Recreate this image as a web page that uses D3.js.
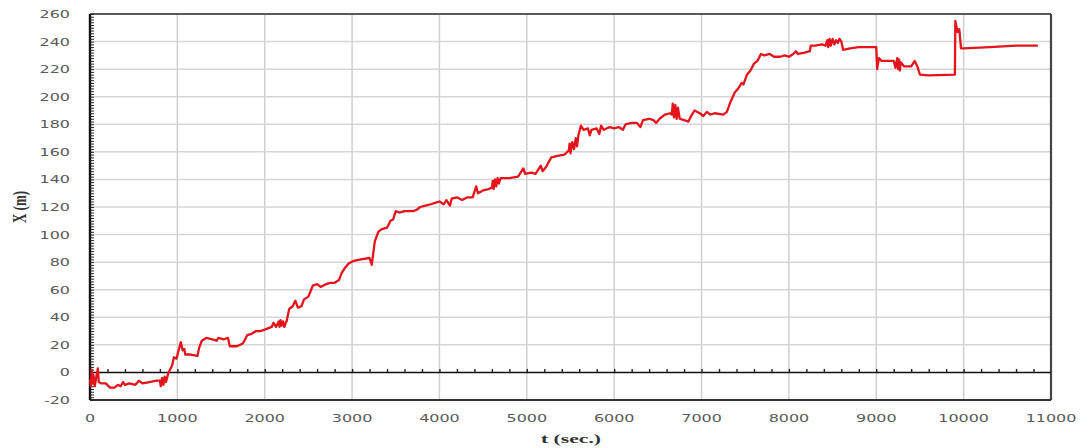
<!DOCTYPE html>
<html>
<head>
<meta charset="utf-8">
<script src="https://cdn.jsdelivr.net/npm/d3@7"></script>
<style>
  html, body { margin: 0; padding: 0; background: #fff; }
  svg { display: block; }
</style>
</head>
<body>
<svg id="chart" width="1083" height="448"></svg>
<script>
// Elapsed time (s) and position X (m) of the tracked object
const tSec = [
  0, 10, 20, 30, 40, 55, 70, 90, 100, 130, 180, 230, 280, 320, 350, 380, 400, 450, 520, 560,
  600, 680, 760, 800, 810, 825, 840, 855, 870, 890, 900, 940, 960, 990, 1010, 1040, 1060, 1080, 1090, 1150,
  1230, 1250, 1280, 1330, 1400, 1450, 1470, 1530, 1580, 1600, 1680, 1750, 1800, 1850, 1900, 1950, 2000, 2080, 2100, 2130,
  2160, 2170, 2180, 2195, 2210, 2225, 2240, 2250, 2280, 2320, 2350, 2380, 2420, 2450, 2500, 2550, 2600, 2640, 2700, 2750,
  2800, 2850, 2880, 2920, 2960, 3020, 3100, 3200, 3225, 3260, 3300, 3340, 3400, 3440, 3470, 3500, 3540, 3600, 3700, 3740,
  3780, 3840, 3900, 3950, 4000, 4050, 4080, 4120, 4140, 4200, 4260, 4320, 4380, 4420, 4440, 4500, 4560, 4600, 4610, 4620,
  4635, 4650, 4665, 4680, 4700, 4800, 4900, 4960, 4980, 5050, 5100, 5140, 5160, 5180, 5220, 5280, 5350, 5430, 5480, 5490,
  5500, 5520, 5540, 5560, 5575, 5590, 5620, 5650, 5700, 5720, 5740, 5800, 5830, 5850, 5880, 5950, 6000, 6050, 6100, 6130,
  6200, 6260, 6300, 6330, 6400, 6450, 6480, 6520, 6580, 6640, 6660, 6670, 6685, 6700, 6715, 6730, 6750, 6800, 6850, 6880,
  6920, 6980, 7020, 7060, 7100, 7150, 7250, 7290, 7330, 7380, 7420, 7460, 7480, 7520, 7560, 7600, 7640, 7680, 7720, 7780,
  7830, 7900, 7950, 8000, 8050, 8080, 8100, 8180, 8240, 8250, 8300, 8380, 8420, 8440, 8450, 8465, 8480, 8500, 8520, 8540,
  8560, 8580, 8600, 8620, 8700, 8800, 9000, 9010, 9030, 9060, 9200, 9220, 9240, 9250, 9260, 9270, 9280, 9320, 9400, 9440,
  9470, 9500, 9600, 9900, 9905, 9930, 9950, 9970, 10000, 10300, 10600, 10850
];
const xMeters = [
  -5, -10, 2, -8, -2, -10, -4, 3, -7, -8, -8, -11, -11, -9, -10, -7, -9, -8, -9, -6,
  -8, -7, -6, -6, -10, -4, -9, -3, -7, -2, 0, 5, 11, 10, 15, 22, 16, 17, 13, 13,
  12, 18, 23, 25, 24, 23, 25, 24, 25, 19, 19, 21, 27, 28, 30, 30, 31, 33, 36, 33,
  37, 33, 38, 34, 37, 33, 36, 37, 46, 48, 52, 47, 48, 53, 55, 63, 64, 62, 64, 65,
  65, 67, 72, 76, 79, 81, 82, 83, 78, 95, 102, 104, 105, 110, 111, 117, 116, 117, 117, 118,
  120, 121, 122, 123, 124, 122, 125, 121, 126, 127, 125, 127, 127, 135, 130, 132, 133, 134, 139, 133,
  140, 135, 141, 137, 141, 141, 142, 148, 144, 145, 144, 148, 150, 146, 149, 156, 157, 158, 161, 166,
  159, 167, 162, 170, 164, 172, 179, 176, 177, 172, 176, 177, 173, 179, 176, 178, 177, 178, 176, 180,
  181, 181, 178, 183, 184, 183, 181, 184, 187, 188, 187, 195, 185, 194, 184, 192, 184, 183, 182, 186,
  190, 188, 186, 189, 187, 188, 187, 189, 196, 203, 206, 210, 209, 216, 219, 224, 226, 231, 230, 231,
  229, 229, 230, 229, 231, 233, 231, 232, 233, 237, 237, 238, 237, 241, 236, 242, 237, 242, 238, 241,
  239, 242, 240, 234, 235, 236, 236, 220, 228, 226, 226, 221, 228, 220, 227, 219, 225, 222, 222, 226,
  222, 216, 215.5, 216, 255, 247, 249, 235, 235, 236, 237, 237
];
const xTickValues = d3.range(0, 11001, 1000);
const yTickValues = d3.range(-20, 261, 20);

const svg = d3.select("#chart");
const margin = { left: 90, right: 1051, top: 14, bottom: 400 };

const x = d3.scaleLinear().domain([0, 11000]).range([margin.left, margin.right]);
const y = d3.scaleLinear().domain([-20, 260]).range([margin.bottom, margin.top]);

// Grid
const grid = svg.append("g").attr("class", "grid");
grid.selectAll("line.gv")
  .data(xTickValues.filter(d => d > 0 && d < 11000))
  .enter().append("line")
  .attr("class", "gv")
  .attr("x1", d => x(d)).attr("x2", d => x(d))
  .attr("y1", margin.top).attr("y2", margin.bottom)
  .attr("stroke", "#cfcfcf").attr("stroke-width", 1.5);
grid.selectAll("line.gh")
  .data(yTickValues.filter(d => d > -20 && d < 260 && d !== 0))
  .enter().append("line")
  .attr("class", "gh")
  .attr("x1", margin.left).attr("x2", margin.right)
  .attr("y1", d => y(d)).attr("y2", d => y(d))
  .attr("stroke", "#d6d6d6").attr("stroke-width", 1.5);

// Frame: top, right, bottom
svg.append("line").attr("x1", margin.left).attr("x2", margin.right)
  .attr("y1", margin.top).attr("y2", margin.top)
  .attr("stroke", "#5a5a5a").attr("stroke-width", 2.2);
svg.append("line").attr("x1", margin.right).attr("x2", margin.right)
  .attr("y1", margin.top).attr("y2", margin.bottom)
  .attr("stroke", "#444").attr("stroke-width", 2.2);
svg.append("line").attr("x1", margin.left).attr("x2", margin.right)
  .attr("y1", margin.bottom).attr("y2", margin.bottom)
  .attr("stroke", "#333").attr("stroke-width", 2.2);

// Zero line carrying the time ticks
const xAxis = d3.axisTop(x)
  .tickValues(d3.range(0, 10801, 200))
  .tickSize(3.5)
  .tickFormat("");
const gx = svg.append("g").attr("transform", `translate(0,${y(0)})`).call(xAxis);
gx.select(".domain").attr("stroke", "#111").attr("stroke-width", 1.6)
  .attr("d", `M${margin.left},0H${margin.right}`);
gx.selectAll(".tick line").attr("stroke", "#222").attr("stroke-width", 1.4);

// Left value axis with minor ticks
const yMinor = d3.axisRight(y).tickValues(d3.range(-20, 261, 2)).tickSize(4).tickFormat("");
const gyMinor = svg.append("g").attr("transform", `translate(${margin.left},0)`).call(yMinor);
gyMinor.selectAll(".tick line").attr("stroke", "#222").attr("stroke-width", 1);
gyMinor.select(".domain").attr("stroke", "#111").attr("stroke-width", 2.4)
  .attr("d", `M0,${margin.top}V${margin.bottom}`);

// Tick labels (wide, grey)
const labelFont = "DejaVu Sans, Verdana, sans-serif";
svg.append("g").selectAll("g").data(yTickValues).join("g")
  .attr("transform", d => `translate(70,${y(d) + 4}) scale(1.45,1)`)
  .append("text")
  .attr("text-anchor", "end")
  .attr("font-family", labelFont).attr("font-size", 11)
  .attr("fill", "#5a5a5a")
  .text(d => d);

svg.append("g").selectAll("g").data(xTickValues).join("g")
  .attr("transform", d => `translate(${x(d)},${422}) scale(1.45,1)`)
  .append("text")
  .attr("text-anchor", "middle")
  .attr("font-family", labelFont).attr("font-size", 11)
  .attr("fill", "#5a5a5a")
  .text(d => d);

// Axis titles
svg.append("g").attr("transform", "translate(571,443) scale(1.8,1)")
  .append("text")
  .attr("text-anchor", "middle")
  .attr("font-family", "Liberation Serif, serif").attr("font-weight", "bold")
  .attr("font-size", 12).attr("fill", "#333")
  .text("t (sec.)");

svg.append("g").attr("transform", "translate(26,207) scale(1.5,1) rotate(-90)")
  .append("text")
  .attr("text-anchor", "middle")
  .attr("font-family", "Liberation Serif, serif").attr("font-weight", "bold")
  .attr("font-size", 13).attr("fill", "#333")
  .text("X (m)");

// Position trace
const pts = tSec.map((t, i) => [t, xMeters[i]]);
const line = d3.line().x(d => x(d[0])).y(d => y(d[1]));
svg.append("path")
  .datum(pts)
  .attr("fill", "none")
  .attr("stroke", "#e3141c")
  .attr("stroke-width", 2.3)
  .attr("stroke-linejoin", "round")
  .attr("d", line);
</script>
</body>
</html>
